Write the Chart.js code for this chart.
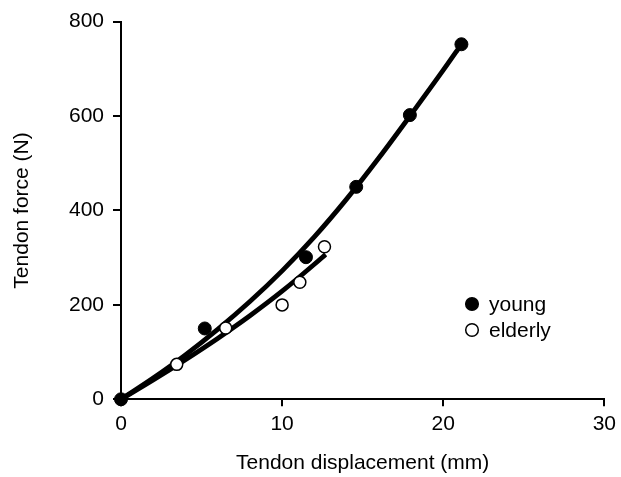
<!DOCTYPE html>
<html>
<head>
<meta charset="utf-8">
<script src="https://cdn.jsdelivr.net/npm/chart.js@4"></script>
<style>
  body { margin: 0; background: #fff; }
  canvas { display: block; }
</style>
</head>
<body>
<canvas id="tendonChart" width="621" height="477"></canvas>
<script>
// Measured points
const youngDisp = [0, 5.2, 11.48, 14.6, 17.93, 21.13];
const youngForce = [0, 150, 301, 450, 602, 752];
const elderlyDisp = [3.46, 6.5, 10.0, 11.1, 12.63];
const elderlyForce = [74, 151, 200, 248, 323];

// Fitted curves
const youngFitDisp = [0, 2, 4, 6, 8, 10, 12, 14, 16, 18, 20, 21.13];
const youngFitForce = [0, 45, 94, 148, 207, 272, 344, 424, 511, 603, 697, 752];
const elderlyFitDisp = [0, 2, 4, 6, 8, 10, 12, 12.7];
const elderlyFitForce = [0, 41, 84, 129, 177, 229, 286, 307];

const xTicks = [0, 10, 20, 30];
const yTicks = [0, 200, 400, 600, 800];

const FONT = "'Liberation Sans', Arial, sans-serif";

function toXY(xs, ys) {
    return xs.map((x, i) => ({x: x, y: ys[i]}));
}

// Simple legend drawn inside the plot
const legendPlugin = {
    id: "markerLegend",
    afterDraw(chart) {
        const ctx = chart.ctx;
        const items = [
            {label: "young", fill: "#000", y: 304},
            {label: "elderly", fill: "#fff", y: 330}
        ];
        ctx.save();
        ctx.font = "21px " + FONT;
        ctx.textBaseline = "middle";
        items.forEach(item => {
            ctx.beginPath();
            ctx.arc(472, item.y, 6.3, 0, Math.PI * 2);
            ctx.fillStyle = item.fill;
            ctx.fill();
            ctx.lineWidth = 1.5;
            ctx.strokeStyle = "#000";
            ctx.stroke();
            ctx.fillStyle = "#000";
            ctx.fillText(item.label, 489, item.y + 1);
        });
        ctx.restore();
    }
};

new Chart(document.getElementById("tendonChart"), {
    type: "scatter",
    data: {
        datasets: [
            {
                label: "young",
                data: toXY(youngDisp, youngForce),
                pointRadius: 6.5,
                pointBackgroundColor: "#000",
                pointBorderColor: "#000",
                pointBorderWidth: 1,
                showLine: false,
                clip: false,
                order: 0
            },
            {
                label: "elderly",
                data: toXY(elderlyDisp, elderlyForce),
                pointRadius: 6,
                pointBackgroundColor: "#fff",
                pointBorderColor: "#000",
                pointBorderWidth: 1.5,
                showLine: false,
                clip: false,
                order: 1
            },
            {
                label: "young fit",
                data: toXY(youngFitDisp, youngFitForce),
                showLine: true,
                borderColor: "#000",
                borderWidth: 4.8,
                pointRadius: 0,
                cubicInterpolationMode: "monotone",
                clip: false,
                order: 2
            },
            {
                label: "elderly fit",
                data: toXY(elderlyFitDisp, elderlyFitForce),
                showLine: true,
                borderColor: "#000",
                borderWidth: 4.8,
                pointRadius: 0,
                cubicInterpolationMode: "monotone",
                clip: false,
                order: 3
            }
        ]
    },
    options: {
        responsive: false,
        animation: false,
        layout: {
            padding: {top: 20.7, right: 14.3, bottom: 0, left: 0}
        },
        plugins: {
            legend: { display: false },
            tooltip: { enabled: false }
        },
        scales: {
            x: {
                type: "linear",
                min: 0,
                max: 30,
                afterBuildTicks: scale => { scale.ticks = xTicks.map(v => ({value: v})); },
                afterFit: scale => { scale.height = 77.7; },
                ticks: {
                    color: "#000",
                    font: {family: FONT, size: 21},
                    padding: 5
                },
                grid: {
                    drawOnChartArea: false,
                    drawTicks: true,
                    tickLength: 7,
                    color: "#000",
                    lineWidth: 2
                },
                border: { display: true, color: "#000", width: 2 },
                title: {
                    display: true,
                    text: "Tendon displacement (mm)",
                    color: "#000",
                    font: {family: FONT, size: 21},
                    padding: {top: 0, bottom: 1.4}
                }
            },
            y: {
                type: "linear",
                min: 0,
                max: 800,
                afterBuildTicks: scale => { scale.ticks = yTicks.map(v => ({value: v})); },
                afterFit: scale => { scale.width = 121; },
                ticks: {
                    color: "#000",
                    font: {family: FONT, size: 21},
                    padding: 9
                },
                grid: {
                    drawOnChartArea: false,
                    drawTicks: true,
                    tickLength: 8,
                    color: "#000",
                    lineWidth: 2
                },
                border: { display: true, color: "#000", width: 2 },
                title: {
                    display: true,
                    text: "Tendon force (N)",
                    color: "#000",
                    font: {family: FONT, size: 21},
                    padding: {top: 9.4, bottom: 0}
                }
            }
        }
    },
    plugins: [legendPlugin]
});
</script>
</body>
</html>
